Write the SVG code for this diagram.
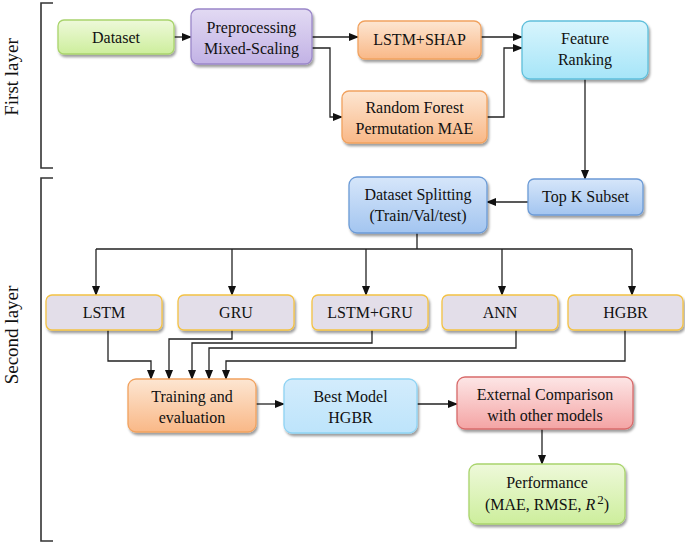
<svg xmlns="http://www.w3.org/2000/svg" width="685" height="543" viewBox="0 0 685 543">
<defs>
<linearGradient id="gGreen" x1="0" y1="0" x2="0" y2="1"><stop offset="0" stop-color="#eef9da"/><stop offset="1" stop-color="#cdee9c"/></linearGradient>
<linearGradient id="gPurple" x1="0" y1="0" x2="0" y2="1"><stop offset="0" stop-color="#e2daf3"/><stop offset="1" stop-color="#c2b2e5"/></linearGradient>
<linearGradient id="gOrange" x1="0" y1="0" x2="0" y2="1"><stop offset="0" stop-color="#fde6d2"/><stop offset="1" stop-color="#f9b887"/></linearGradient>
<linearGradient id="gCyan" x1="0" y1="0" x2="0" y2="1"><stop offset="0" stop-color="#d8f5fd"/><stop offset="1" stop-color="#a6e5f8"/></linearGradient>
<linearGradient id="gBlue" x1="0" y1="0" x2="0" y2="1"><stop offset="0" stop-color="#d6e6fa"/><stop offset="1" stop-color="#a3c5f0"/></linearGradient>
<linearGradient id="gLBlue" x1="0" y1="0" x2="0" y2="1"><stop offset="0" stop-color="#d3ecfc"/><stop offset="1" stop-color="#bde4fb"/></linearGradient>
<linearGradient id="gRed" x1="0" y1="0" x2="0" y2="1"><stop offset="0" stop-color="#fde6e6"/><stop offset="1" stop-color="#f4a4a4"/></linearGradient>
<filter id="sh" x="-10%" y="-10%" width="130%" height="140%"><feDropShadow dx="1.5" dy="2.5" stdDeviation="1.2" flood-color="#000" flood-opacity="0.38"/></filter>
<marker id="ah" markerWidth="10" markerHeight="8" refX="9" refY="4" orient="auto" markerUnits="userSpaceOnUse"><path d="M0,0 L10,4 L0,8 Z" fill="#111"/></marker>
<style>
.box{filter:url(#sh);stroke-width:1.3}
.t{font-family:"Liberation Serif","Times New Roman",serif;font-size:16px;fill:#111;text-anchor:middle}
.side{font-family:"Liberation Serif","Times New Roman",serif;font-size:19px;fill:#111;text-anchor:middle}
.c{fill:none;stroke:#222;stroke-width:1.3}
.a{fill:none;stroke:#222;stroke-width:1.3;marker-end:url(#ah)}
.br{fill:none;stroke:#333;stroke-width:1.6}
.green{fill:url(#gGreen);stroke:#a9d46c}
.purple{fill:url(#gPurple);stroke:#9a87c9}
.orange{fill:url(#gOrange);stroke:#f1a25f}
.cyan{fill:url(#gCyan);stroke:#5fbfdb}
.blue{fill:url(#gBlue);stroke:#6c9bd6}
.lblue{fill:url(#gLBlue);stroke:#8fd3f3}
.red{fill:url(#gRed);stroke:#d86b6b}
.model{fill:#e3dee9;stroke:#f4c244}
</style>
</defs>
<g id="brackets">
<path class="br" d="M53,3 H41 V168 H53"/>
<path class="br" d="M53,178 H41 V541 H53"/>
<text class="side" transform="translate(18,77) rotate(-90)">First layer</text>
<text class="side" transform="translate(18,335) rotate(-90)">Second layer</text>
</g>
<g id="connectors">
<path class="a" d="M174,37 H191"/>
<path class="a" d="M312,37 H358"/>
<path class="a" d="M312,48 H330 V117 H342"/>
<path class="a" d="M481,37 H522"/>
<path class="a" d="M487,117 H504 V48 H522"/>
<path class="a" d="M585,79 V179"/>
<path class="a" d="M528,202 H487"/>
<path class="c" d="M417,233 V249 M96,249 H632"/>
<path class="a" d="M96,249 V295"/>
<path class="a" d="M232,249 V295"/>
<path class="a" d="M366,249 V295"/>
<path class="a" d="M502,249 V295"/>
<path class="a" d="M632,249 V295"/>
<path class="a" d="M108,330 V361 H151 V379"/>
<path class="a" d="M232,330 V339 H169 V379"/>
<path class="a" d="M372,330 V343 H192 V379"/>
<path class="a" d="M516,330 V348 H209 V379"/>
<path class="a" d="M625,330 V361 H226 V379"/>
<path class="a" d="M256,404 H284"/>
<path class="a" d="M417,404 H457"/>
<path class="a" d="M542,429 V464"/>
</g>
<g id="dataset"><rect class="box green" x="58" y="20" width="116" height="34" rx="6"/><text class="t" x="116" y="43">Dataset</text></g>
<g id="preprocessing"><rect class="box purple" x="191" y="9" width="121" height="55" rx="7"/><text class="t" x="251.5" y="33">Preprocessing</text><text class="t" x="251.5" y="54">Mixed-Scaling</text></g>
<g id="lstm-shap"><rect class="box orange" x="358" y="21" width="123" height="38" rx="7"/><text class="t" x="419.5" y="45">LSTM+SHAP</text></g>
<g id="random-forest"><rect class="box orange" x="342" y="91" width="145" height="52" rx="7"/><text class="t" x="414.5" y="113">Random Forest</text><text class="t" x="414.5" y="134">Permutation MAE</text></g>
<g id="feature-ranking"><rect class="box cyan" x="522" y="21" width="126" height="58" rx="8"/><text class="t" x="585" y="44">Feature</text><text class="t" x="585" y="65">Ranking</text></g>
<g id="top-k"><rect class="box blue" x="528" y="179" width="115" height="36" rx="6"/><text class="t" x="585.5" y="202">Top K Subset</text></g>
<g id="dataset-splitting"><rect class="box blue" x="349" y="177" width="138" height="56" rx="8"/><text class="t" x="418" y="200">Dataset Splitting</text><text class="t" x="418" y="221">(Train/Val/test)</text></g>
<g id="lstm"><rect class="box model" x="46" y="295" width="116" height="35" rx="6"/><text class="t" x="104" y="318">LSTM</text></g>
<g id="gru"><rect class="box model" x="178" y="295" width="116" height="35" rx="6"/><text class="t" x="236" y="318">GRU</text></g>
<g id="lstm-gru"><rect class="box model" x="312" y="295" width="116" height="35" rx="6"/><text class="t" x="370" y="318">LSTM+GRU</text></g>
<g id="ann"><rect class="box model" x="442" y="295" width="116" height="35" rx="6"/><text class="t" x="500" y="318">ANN</text></g>
<g id="hgbr"><rect class="box model" x="568" y="295" width="115" height="35" rx="6"/><text class="t" x="625.5" y="318">HGBR</text></g>
<g id="training"><rect class="box orange" x="128" y="379" width="128" height="53" rx="8"/><text class="t" x="192" y="402">Training and</text><text class="t" x="192" y="423">evaluation</text></g>
<g id="best-model"><rect class="box lblue" x="284" y="379" width="133" height="54" rx="8"/><text class="t" x="350.5" y="402">Best Model</text><text class="t" x="350.5" y="423">HGBR</text></g>
<g id="external"><rect class="box red" x="457" y="377" width="176" height="52" rx="8"/><text class="t" x="545" y="400">External Comparison</text><text class="t" x="545" y="421">with other models</text></g>
<g id="performance"><rect class="box green" x="469" y="464" width="156" height="60" rx="8"/><text class="t" x="547" y="488">Performance</text><text class="t" x="547" y="510">(MAE, RMSE, <tspan font-style="italic">R</tspan><tspan font-size="13" dx="2" dy="-6">2</tspan><tspan dy="6">)</tspan></text></g>
</svg>
